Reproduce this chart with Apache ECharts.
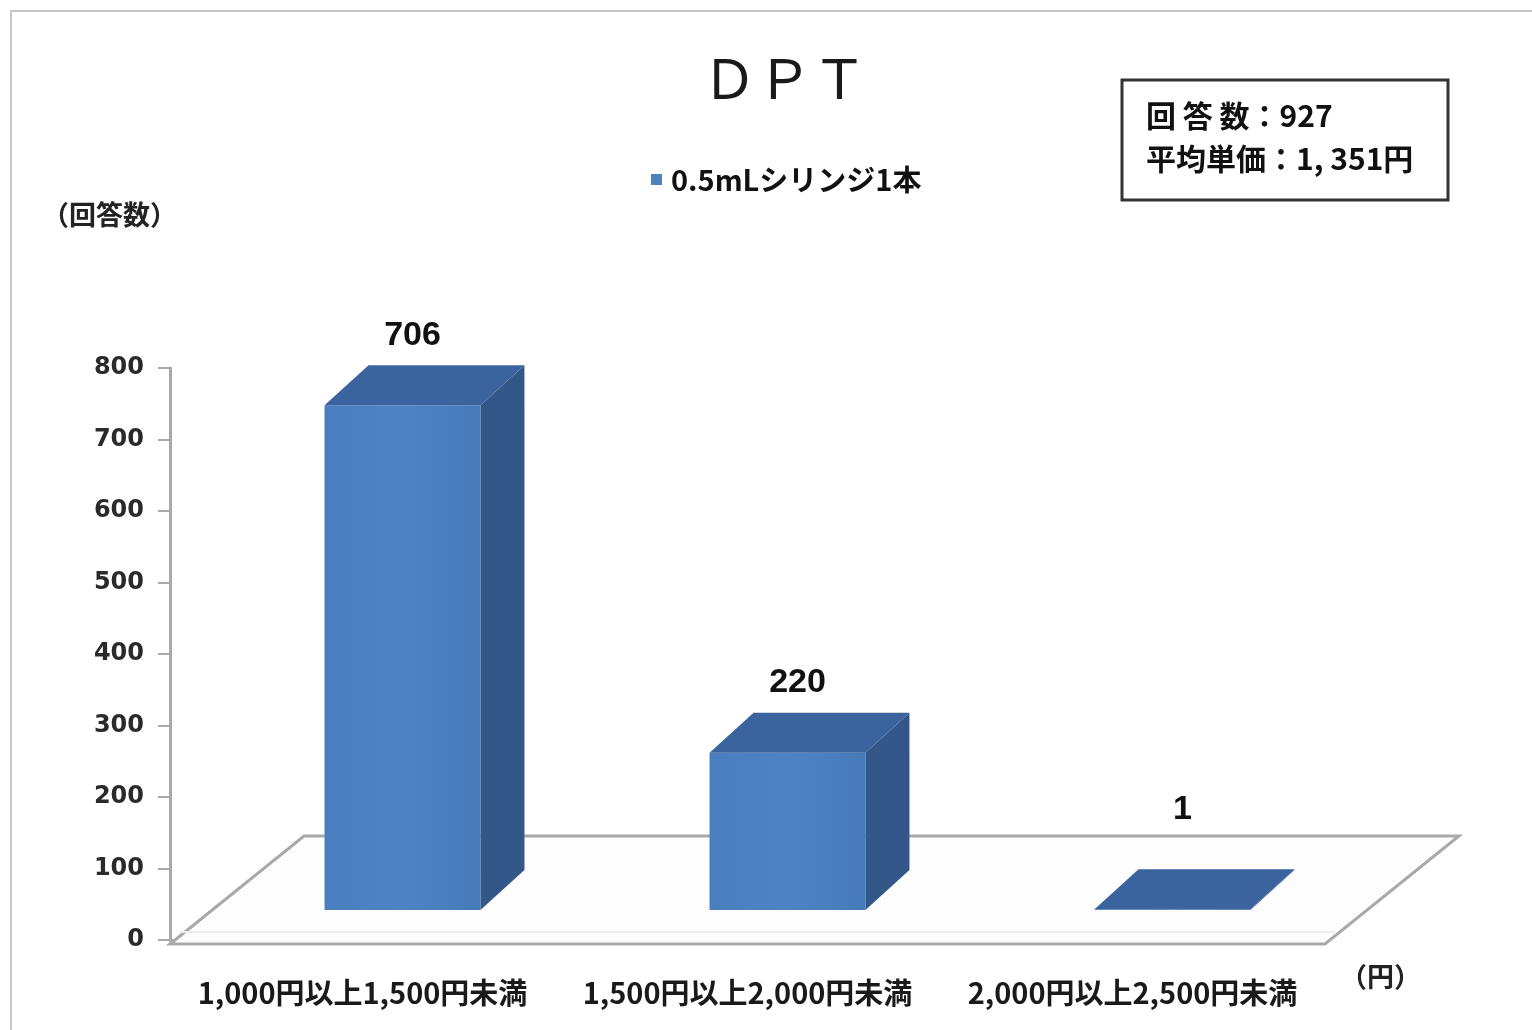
<!DOCTYPE html>
<html>
<head>
<meta charset="utf-8">
<title>DPT</title>
<script src="https://cdn.jsdelivr.net/npm/echarts@6/dist/echarts.min.js"></script>
<style>
    html, body { margin: 0; padding: 0; background: #fff; }
    #dpt_price_chart { width: 1532px; height: 1030px; }
</style>
</head>
<body>
<div id="dpt_price_chart"></div>
<script>
// Chart data
// ------------------------------

var chartTitle = 'ＤＰＴ';
var seriesName = '0.5mLシリンジ1本';
var categories = ['1,000円以上1,500円未満', '1,500円以上2,000円未満', '2,000円以上2,500円未満'];
var answerCounts = [706, 220, 1];
var countAxisMin = 0;
var countAxisMax = 800;
var countAxisStep = 100;
var countAxisName = '（回答数）';
var priceAxisName = '（円）';
var summaryLines = ['回 答 数：927', '平均単価：1, 351円'];


// Setup module
// ------------------------------

var EchartsDptPrice = function() {

    var _dptPriceChart = function() {
        if (typeof echarts == 'undefined') {
            console.warn('Warning - echarts.min.js is not loaded.');
            return;
        }

        var chart_element = document.getElementById('dpt_price_chart');
        if (!chart_element) {
            return;
        }

        var chart = echarts.init(chart_element);

        // 3D look: floor depth, bar depth and the bar offset into the floor
        var floorDepth = [134, -108];
        var barDepth = [44, -40];
        var barInset = [40, -30];
        var barWidthRatio = 0.405;

        var jpFont = '"Noto Sans CJK JP", "Noto Sans", sans-serif';

        // Floor of the 3D plot
        var renderFloor = function(params, api) {
            var cs = params.coordSys;
            var x0 = cs.x;
            var x1 = cs.x + cs.width;
            var y0 = cs.y + cs.height + 4;
            var dx = floorDepth[0], dy = floorDepth[1];
            return {
                type: 'group',
                children: [
                    {
                        type: 'polygon',
                        shape: { points: [[x0, y0], [x1, y0], [x1 + dx, y0 + dy], [x0 + dx, y0 + dy]] },
                        style: { fill: '#fdfdfd', stroke: '#a9a9a9', lineWidth: 3 }
                    },
                    {
                        type: 'line',
                        shape: { x1: x0 + 10, y1: y0 - 12, x2: x1 + 10, y2: y0 - 12 },
                        style: { stroke: '#ececec', lineWidth: 2 }
                    }
                ]
            };
        };

        // 3D bars: front, top and side faces
        var renderBar = function(params, api) {
            var idx = api.value(0);
            var val = api.value(1);
            var base = api.coord([idx, 0]);
            var top = api.coord([idx, val]);
            var band = api.size([1, 0])[0];
            var w = band * barWidthRatio;
            var x = base[0] - w / 2 + barInset[0];
            var yb = base[1] + barInset[1];
            var yt = top[1] + barInset[1];
            var dx = barDepth[0], dy = barDepth[1];
            var labelY = Math.min(yt + dy - 30, base[1] + floorDepth[1] - 22);

            return {
                type: 'group',
                children: [
                    {
                        type: 'polygon',
                        shape: { points: [[x + w, yt], [x + w + dx, yt + dy], [x + w + dx, yb + dy], [x + w, yb]] },
                        style: { fill: '#34578a' }
                    },
                    {
                        type: 'rect',
                        shape: { x: x, y: yt, width: w, height: Math.max(yb - yt, 0) },
                        style: {
                            fill: new echarts.graphic.LinearGradient(0, 0, 1, 0, [
                                { offset: 0, color: '#4a7dbd' },
                                { offset: 0.5, color: '#4f84c4' },
                                { offset: 1, color: '#4679b8' }
                            ])
                        }
                    },
                    {
                        type: 'polygon',
                        shape: { points: [[x, yt], [x + w, yt], [x + w + dx, yt + dy], [x + dx, yt + dy]] },
                        style: { fill: '#3b639d' }
                    },
                    {
                        type: 'text',
                        style: {
                            text: String(val),
                            x: x + w / 2 + 10,
                            y: labelY,
                            align: 'center',
                            verticalAlign: 'middle',
                            fill: '#111',
                            font: 'bold 34px "Liberation Sans", Arial, sans-serif'
                        }
                    }
                ]
            };
        };

        chart.setOption({

            animation: false,

            textStyle: {
                fontFamily: jpFont
            },

            // Title
            title: {
                text: chartTitle,
                left: 697,
                top: 46,
                textStyle: {
                    fontFamily: jpFont,
                    fontSize: 55,
                    fontWeight: 'normal',
                    color: '#1a1a1a'
                }
            },

            // Legend
            legend: {
                data: [{ name: seriesName, icon: 'rect' }],
                left: 646,
                top: 160,
                itemWidth: 11,
                itemHeight: 11,
                textStyle: {
                    fontFamily: jpFont,
                    fontSize: 29,
                    fontWeight: 'bold',
                    color: '#111',
                    padding: [0, 0, 0, 4]
                }
            },

            // Setup grid
            grid: {
                left: 170,
                right: 207,
                top: 368,
                bottom: 90
            },

            // Horizontal axis
            xAxis: {
                type: 'category',
                data: categories,
                offset: 4,
                axisLine: {
                    lineStyle: { color: '#a9a9a9', width: 3 }
                },
                axisTick: {
                    interval: 0,
                    length: 10,
                    lineStyle: { color: '#b5b5b5', width: 2 }
                },
                axisLabel: {
                    interval: 0,
                    hideOverlap: false,
                    margin: 34,
                    fontFamily: jpFont,
                    fontSize: 29,
                    fontWeight: 'bold',
                    color: '#1a1a1a'
                },
                splitLine: { show: false }
            },

            // Vertical axis
            yAxis: {
                type: 'value',
                min: countAxisMin,
                max: countAxisMax,
                interval: countAxisStep,
                axisLine: {
                    show: true,
                    lineStyle: { color: '#a9a9a9', width: 3 }
                },
                axisTick: {
                    show: true,
                    length: 12,
                    lineStyle: { color: '#a9a9a9', width: 2 }
                },
                axisLabel: {
                    margin: 26,
                    fontFamily: '"DejaVu Sans", sans-serif',
                    fontSize: 24,
                    fontWeight: 'bold',
                    color: '#2a2a2a'
                },
                splitLine: { show: false }
            },

            // Texts and boxes around the plot
            graphic: [
                {
                    type: 'rect',
                    shape: { x: 11, y: 11, width: 1600, height: 1100 },
                    style: { fill: 'none', stroke: '#c6c6c6', lineWidth: 2 },
                    silent: true
                },
                {
                    type: 'text',
                    left: 42,
                    top: 201,
                    style: {
                        text: countAxisName,
                        font: 'bold 27px ' + jpFont,
                        fill: '#222'
                    }
                },
                {
                    type: 'text',
                    left: 1340,
                    top: 963,
                    style: {
                        text: priceAxisName,
                        font: 'bold 27px ' + jpFont,
                        fill: '#222'
                    }
                },
                {
                    type: 'rect',
                    shape: { x: 1122, y: 80, width: 326, height: 120 },
                    style: { fill: '#fff', stroke: '#333', lineWidth: 3 }
                },
                {
                    type: 'text',
                    left: 1146,
                    top: 94,
                    style: {
                        text: summaryLines.join('\n'),
                        font: 'bold 30px ' + jpFont,
                        lineHeight: 43,
                        fill: '#111'
                    }
                }
            ],

            // Add series
            series: [
                {
                    type: 'custom',
                    silent: true,
                    z: 1,
                    clip: false,
                    renderItem: renderFloor,
                    data: [[0, 0]]
                },
                {
                    name: seriesName,
                    type: 'custom',
                    z: 3,
                    clip: false,
                    itemStyle: { color: '#4f81bd' },
                    renderItem: renderBar,
                    encode: { x: 0, y: 1 },
                    data: answerCounts.map(function(v, i) { return [i, v]; })
                }
            ]
        });

        window.addEventListener('resize', function() {
            chart.resize();
        });
    };

    return {
        init: function() {
            _dptPriceChart();
        }
    }
}();


// Initialize module
// ------------------------------

document.addEventListener('DOMContentLoaded', function() {
    EchartsDptPrice.init();
});
</script>
</body>
</html>
